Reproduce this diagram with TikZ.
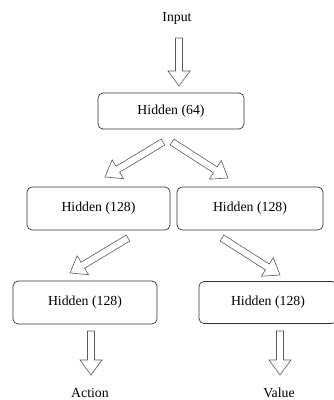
\documentclass[tikz,border=0pt]{standalone}
\usepackage{fontspec}
\setmainfont{Liberation Serif}
\usepackage{tikz}
\usetikzlibrary{positioning,calc}
\tikzstyle{block}=[rectangle,draw=black!80,line width=0.7pt,rounded corners=5pt,minimum height=36pt,align=center,inner sep=0pt]
\tikzstyle{fatarrow}=[draw=black!65,line width=0.6pt,line join=miter,fill=white]
\tikzstyle{label}=[inner sep=1pt]

% hollow block arrow from #1 to #2
\newcommand{\fatarrow}[2]{%
  \path ($(#2)!15pt!(#1)$) coordinate (fa-base);
  \draw[fatarrow] ($(#1)!3.5pt!90:(#2)$) -- ($(fa-base)!3.5pt!90:(#2)$) -- ($(fa-base)!11pt!90:(#2)$) -- (#2) -- ($(fa-base)!11pt!-90:(#2)$) -- ($(fa-base)!3.5pt!-90:(#2)$) -- ($(#1)!3.5pt!-90:(#2)$) -- cycle;
}

\begin{document}
\begin{tikzpicture}[x=1pt,y=-1pt,font=\fontsize{13.8}{16}\selectfont]
\useasboundingbox (0,0) rectangle (333,400);

% input and first hidden layer
\node [label] (in) at (177,18) {Input};
\node [block, minimum width=146pt] (h0) at (171,111) {Hidden (64)};
\coordinate (inA) at (179,38);
\coordinate (inB) at (179,86);
\fatarrow{inA}{inB}

% second layer
\node [block, minimum width=143pt, minimum height=43pt] (h1) at (98.5,208.5) {Hidden (128)};
\node [block, minimum width=146pt, minimum height=43pt] (h2) at (250,208.5) {Hidden (128)};
\coordinate (h0L) at (163,142);
\coordinate (h1T) at (105,177);
\coordinate (h0R) at (172,142);
\coordinate (h2T) at (228,178);
\fatarrow{h0L}{h1T}
\fatarrow{h0R}{h2T}

% heads
\node [block, minimum width=144pt, minimum height=43pt] (h3) at (85,302.5) {Hidden (128)};
\node [block, minimum width=138pt, minimum height=42pt] (h4) at (268,302.5) {Hidden (128)};
\coordinate (h1B) at (128,238);
\coordinate (h3T) at (70,273);
\coordinate (h2B) at (222,238);
\coordinate (h4T) at (280,275);
\fatarrow{h1B}{h3T}
\fatarrow{h2B}{h4T}

% outputs
\node [label] (act) at (90,393) {Action};
\node [label] (val) at (279,393) {Value};
\coordinate (h3B) at (91,331);
\coordinate (actT) at (91,375);
\coordinate (h4B) at (280,331);
\coordinate (valT) at (280,375);
\fatarrow{h3B}{actT}
\fatarrow{h4B}{valT}

\end{tikzpicture}
\end{document}
